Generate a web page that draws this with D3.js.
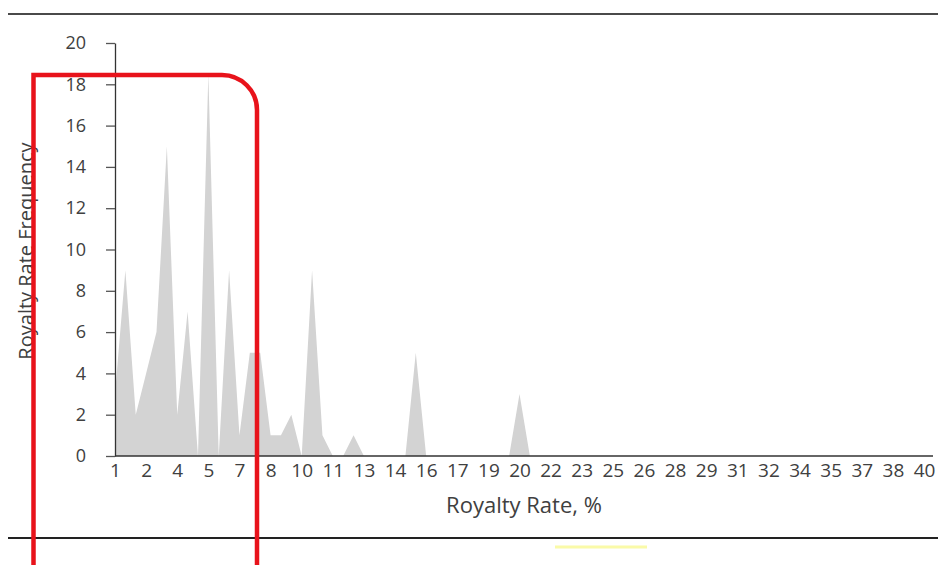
<!DOCTYPE html>
<html>
<head>
<meta charset="utf-8">
<script src="https://cdn.jsdelivr.net/npm/d3@7/dist/d3.min.js"></script>
<style>
  html, body { margin: 0; padding: 0; background: #fff; }
  svg { display: block; }
  text { font-family: "Open Sans", sans-serif; fill: #404040; }
</style>
</head>
<body>
<svg id="chart" width="940" height="565"></svg>
<script>
// Royalty rate categories (%), one every 0.5
const categories = [1,1.5,2,2.5,3,3.5,4,4.5,5,5.5,6,6.5,7,7.5,8,8.5,9,9.5,10,10.5,
  11,11.5,12,12.5,13,13.5,14,14.5,15,15.5,16,16.5,17,17.5,18,18.5,19,19.5,20,20.5,
  21,21.5,22,22.5,23,23.5,24,24.5,25,25.5,26,26.5,27,27.5,28,28.5,29,29.5,30,30.5,
  31,31.5,32,32.5,33,33.5,34,34.5,35,35.5,36,36.5,37,37.5,38,38.5,39,39.5,40];
// Frequency of each royalty rate
const frequency = [3,9,2,4,6,15,2,7,0,18.5,0,9,1,5,5,1,1,2,0,9,
  1,0,0,1,0,0,0,0,0,5,0,0,0,0,0,0,0,0,0,3,
  0,0,0,0,0,0,0,0,0,0,0,0,0,0,0,0,0,0,0,0,
  0,0,0,0,0,0,0,0,0,0,0,0,0,0,0,0,0,0,0];
// X tick labels shown every third category
const xTickLabels = ["1","2","4","5","7","8","10","11","13","14","16","17","19","20",
  "22","23","25","26","28","29","31","32","34","35","37","38","40"];
const yTicks = [0,2,4,6,8,10,12,14,16,18,20];

const svg = d3.select("#chart");

const x = d3.scalePoint().domain(categories).range([115, 924]);
const y = d3.scaleLinear().domain([0, 20]).range([456, 43]);

// horizontal rules
svg.append("line").attr("x1", 8).attr("x2", 938).attr("y1", 14).attr("y2", 14)
  .attr("stroke", "#4a4a4a").attr("stroke-width", 2);
svg.append("line").attr("x1", 8).attr("x2", 938).attr("y1", 538).attr("y2", 538)
  .attr("stroke", "#222").attr("stroke-width", 2);
svg.append("line").attr("x1", 555).attr("x2", 647).attr("y1", 547).attr("y2", 547)
  .attr("stroke", "#fafaa8").attr("stroke-width", 3);

// area
const data = categories.map((c, i) => ({c, v: frequency[i]}));
const area = d3.area()
  .x(d => x(d.c))
  .y0(y(0))
  .y1(d => y(d.v));
svg.append("path").datum(data)
  .attr("d", area)
  .attr("fill", "#d3d3d3");

// y axis
const yAxis = d3.axisLeft(y).tickValues(yTicks).tickSize(9).tickSizeOuter(0).tickPadding(20);
const gy = svg.append("g").attr("transform", "translate(115,0)").call(yAxis);
gy.select(".domain").attr("stroke", "#333").attr("stroke-width", 1.3);
gy.selectAll(".tick line").attr("stroke", "#555").attr("stroke-width", 1.3);
gy.selectAll(".tick text").style("font-size", "18px").style("font-family", "'Open Sans', sans-serif").attr("fill", "#404040");

// x axis
const tickCats = categories.filter((c, i) => i % 3 === 0);
const xAxis = d3.axisBottom(x).tickValues(tickCats)
  .tickFormat((d, i) => xTickLabels[i]).tickSize(0).tickSizeOuter(0).tickPadding(8);
const gx = svg.append("g").attr("transform", "translate(0,456)").call(xAxis);
gx.select(".domain").attr("d", "M115,0H933").attr("stroke", "#333").attr("stroke-width", 1.5);
gx.selectAll(".tick text").style("font-size", "19px").style("font-family", "'Open Sans', sans-serif").attr("fill", "#404040");

// axis titles
svg.append("text").attr("x", 524).attr("y", 513).attr("text-anchor", "middle")
  .style("font-size", "22px").text("Royalty Rate, %");
svg.append("text").attr("transform", "translate(33,251) rotate(-90)").attr("text-anchor", "middle")
  .style("font-size", "20px").text("Royalty Rate Frequency");

// red highlight frame
svg.append("path")
  .attr("d", "M33.5,570V75H222A35,35 0 0 1 257,110V570")
  .attr("fill", "none").attr("stroke", "#e8131b").attr("stroke-width", 4.5);
</script>
</body>
</html>
